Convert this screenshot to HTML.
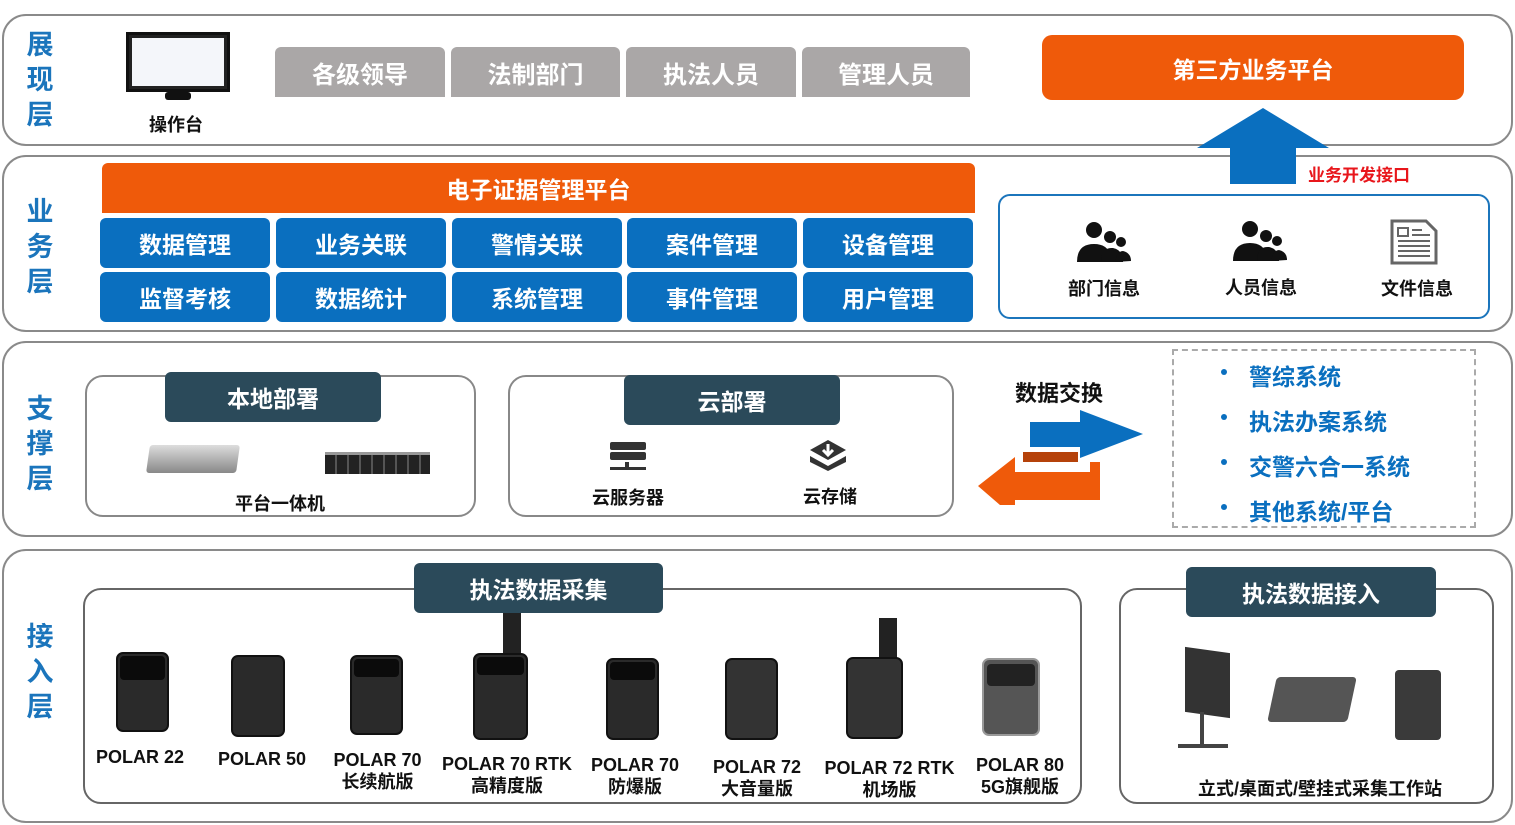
<!DOCTYPE html><html><head><meta charset="utf-8"><style>
*{margin:0;padding:0;box-sizing:border-box}
body{width:1515px;height:825px;background:#fff;position:relative;overflow:hidden;font-family:"Liberation Sans","Noto Sans CJK SC",sans-serif;font-weight:bold}
.a{position:absolute}
.layer{position:absolute;border:2px solid #8a8a8a;border-radius:24px;background:#fff}
.vl{position:absolute;color:#1b75bc;font-size:27px;line-height:35px;width:30px;text-align:center}
.g{position:absolute;background:#aaa7a7;color:#fff;font-size:24px;display:flex;align-items:center;justify-content:center;border-radius:6px 6px 0 0;height:50px;top:47px}
.b{position:absolute;background:#0a6fbf;color:#fff;font-size:23px;display:flex;align-items:center;justify-content:center;border-radius:6px;height:50px}
.h{position:absolute;background:#2b4a5a;color:#fff;font-size:23px;display:flex;align-items:center;justify-content:center;border-radius:6px;height:50px}
.box{position:absolute;border:2px solid #666;border-radius:18px;background:#fff}
.t{position:absolute;font-size:18px;color:#111;text-align:center;line-height:22px}
.dev{position:absolute;background:#2a2a2a;border-radius:7px;border:2px solid #111}
.lens{position:absolute;background:#0b0b0b;border-radius:4px}
.li{position:absolute;color:#0a6fbf;font-size:23px;left:1220px}
</style></head><body>
<!-- layer 1 -->
<div class="layer" style="left:2px;top:14px;width:1511px;height:132px"></div>
<div class="vl" style="left:25px;top:28px">展<br>现<br>层</div>
<div class="a" style="left:126px;top:32px;width:104px;height:60px;background:#222;border:3px solid #111"><div style="margin:3px;height:48px;background:#f4f6fa"></div></div>
<div class="a" style="left:165px;top:92px;width:26px;height:8px;background:#111;border-radius:3px"></div>
<div class="t" style="left:130px;top:114px;width:92px">操作台</div>
<div class="g" style="left:275px;width:170px">各级领导</div>
<div class="g" style="left:451px;width:169px">法制部门</div>
<div class="g" style="left:626px;width:170px">执法人员</div>
<div class="g" style="left:802px;width:168px">管理人员</div>
<div class="a" style="left:1042px;top:35px;width:422px;height:65px;background:#ef5a0a;border-radius:10px;color:#fff;font-size:23px;display:flex;align-items:center;justify-content:center">第三方业务平台</div>
<!-- layer 2 -->
<div class="layer" style="left:2px;top:155px;width:1511px;height:177px"></div>
<svg class="a" style="left:1195px;top:106px" width="140" height="80"><polygon points="68,2 134,42 101,42 101,78 35,78 35,42 2,42" fill="#0a6fbf"/></svg>
<div class="a" style="left:1308px;top:161px;color:#e8161b;font-size:17px">业务开发接口</div>
<div class="vl" style="left:25px;top:195px">业<br>务<br>层</div>
<div class="a" style="left:102px;top:163px;width:873px;height:50px;background:#ef5a0a;border-radius:6px 6px 0 0;color:#fff;font-size:23px;display:flex;align-items:center;justify-content:center">电子证据管理平台</div>
<div class="b" style="left:100px;top:218px;width:170px">数据管理</div>
<div class="b" style="left:276px;top:218px;width:170px">业务关联</div>
<div class="b" style="left:452px;top:218px;width:170px">警情关联</div>
<div class="b" style="left:627px;top:218px;width:170px">案件管理</div>
<div class="b" style="left:803px;top:218px;width:170px">设备管理</div>
<div class="b" style="left:100px;top:272px;width:170px">监督考核</div>
<div class="b" style="left:276px;top:272px;width:170px">数据统计</div>
<div class="b" style="left:452px;top:272px;width:170px">系统管理</div>
<div class="b" style="left:627px;top:272px;width:170px">事件管理</div>
<div class="b" style="left:803px;top:272px;width:170px">用户管理</div>
<div class="a" style="left:998px;top:194px;width:492px;height:125px;border:2px solid #1b75bc;border-radius:12px;background:#fff"></div>
<svg class="a" style="left:1075px;top:220px" width="240" height="45">
<g fill="#111"><circle cx="19" cy="10" r="8"/><path d="M2 42 Q2 24 19 24 Q36 24 36 42Z"/><circle cx="35" cy="17" r="6"/><path d="M26 42 Q26 27 38 28 Q48 30 48 42Z"/><circle cx="46" cy="22" r="5"/><path d="M40 42 Q42 31 48 31 Q56 33 56 41Z"/></g>
<g fill="#111" transform="translate(156,-1)"><circle cx="19" cy="10" r="8"/><path d="M2 42 Q2 24 19 24 Q36 24 36 42Z"/><circle cx="35" cy="17" r="6"/><path d="M26 42 Q26 27 38 28 Q48 30 48 42Z"/><circle cx="46" cy="22" r="5"/><path d="M40 42 Q42 31 48 31 Q56 33 56 41Z"/></g>
</svg>
<svg class="a" style="left:1390px;top:219px" width="50" height="48"><path d="M2 2 H36 L46 12 V44 H2Z" fill="#fff" stroke="#666" stroke-width="3"/><rect x="8" y="9" width="10" height="8" fill="none" stroke="#666" stroke-width="2"/><g stroke="#666" stroke-width="2"><line x1="22" y1="11" x2="32" y2="11"/><line x1="22" y1="16" x2="40" y2="16"/><line x1="8" y1="22" x2="40" y2="22"/><line x1="8" y1="27" x2="40" y2="27"/><line x1="8" y1="32" x2="40" y2="32"/><line x1="8" y1="37" x2="40" y2="37"/></g></svg>
<div class="t" style="left:1054px;top:278px;width:100px">部门信息</div>
<div class="t" style="left:1211px;top:277px;width:100px">人员信息</div>
<div class="t" style="left:1367px;top:278px;width:100px">文件信息</div>
<!-- layer 3 -->
<div class="layer" style="left:2px;top:341px;width:1511px;height:196px"></div>
<div class="vl" style="left:25px;top:392px">支<br>撑<br>层</div>
<div class="box" style="left:85px;top:375px;width:391px;height:142px;border-color:#888"></div>
<div class="h" style="left:165px;top:372px;width:216px">本地部署</div>
<div class="a" style="left:148px;top:445px;width:90px;height:28px;background:linear-gradient(#ddd,#888);border-radius:3px;transform:skewX(-8deg)"></div>
<div class="a" style="left:325px;top:452px;width:105px;height:22px;background:repeating-linear-gradient(90deg,#222 0 10px,#555 10px 12px);border-top:3px solid #999"></div>
<div class="t" style="left:220px;top:493px;width:120px">平台一体机</div>
<div class="box" style="left:508px;top:375px;width:446px;height:142px;border-color:#888"></div>
<div class="h" style="left:624px;top:375px;width:216px">云部署</div>
<svg class="a" style="left:608px;top:440px" width="40" height="32"><g fill="#333"><rect x="2" y="2" width="36" height="8" rx="2"/><rect x="2" y="12" width="36" height="8" rx="2"/><rect x="17" y="22" width="4" height="6"/><rect x="2" y="27" width="36" height="3"/></g></svg>
<svg class="a" style="left:808px;top:438px" width="40" height="34"><g fill="#333"><polygon points="20,2 38,12 20,22 2,12"/><polygon points="2,18 20,28 38,18 38,24 20,33 2,24"/></g><path d="M20 6 V16 M15 12 L20 17 L25 12" stroke="#fff" stroke-width="3" fill="none"/></svg>
<div class="t" style="left:578px;top:487px;width:100px">云服务器</div>
<div class="t" style="left:780px;top:486px;width:100px">云存储</div>
<div class="a" style="left:1015px;top:376px;font-size:22px;color:#111">数据交换</div>
<svg class="a" style="left:975px;top:410px" width="175" height="95"><polygon points="15,73 40,51 40,62 115,62 115,52 125,52 125,90 40,90 40,100" fill="#ef5a0a"/><polygon points="3,76 40,47 40,66 115,66 115,89 40,89 40,108" fill="#ef5a0a"/><rect x="48" y="42" width="55" height="10" fill="#b5420a"/><polygon points="55,12 105,12 105,0 168,24 105,48 105,37 55,37" fill="#0a6fbf"/></svg>
<div class="a" style="left:1172px;top:349px;width:304px;height:179px;border:2px dashed #aaa"></div>
<div class="a" style="left:1221px;top:369px;width:6px;height:6px;border-radius:3px;background:#0a6fbf"></div>
<div class="a" style="left:1221px;top:414px;width:6px;height:6px;border-radius:3px;background:#0a6fbf"></div>
<div class="a" style="left:1221px;top:459px;width:6px;height:6px;border-radius:3px;background:#0a6fbf"></div>
<div class="a" style="left:1221px;top:504px;width:6px;height:6px;border-radius:3px;background:#0a6fbf"></div>
<div class="li" style="left:1249px;top:358px">警综系统</div>
<div class="li" style="left:1249px;top:403px">执法办案系统</div>
<div class="li" style="left:1249px;top:448px">交警六合一系统</div>
<div class="li" style="left:1249px;top:493px">其他系统/平台</div>
<!-- layer 4 -->
<div class="layer" style="left:2px;top:549px;width:1511px;height:274px"></div>
<div class="vl" style="left:25px;top:620px">接<br>入<br>层</div>
<div class="box" style="left:83px;top:588px;width:999px;height:216px"></div>
<div class="h" style="left:414px;top:563px;width:249px">执法数据采集</div>
<div class="box" style="left:1119px;top:588px;width:375px;height:216px"></div>
<div class="h" style="left:1186px;top:567px;width:250px">执法数据接入</div>
<div class="dev" style="left:116px;top:652px;width:53px;height:80px"></div><div class="lens" style="left:120px;top:656px;width:45px;height:24px"></div>
<div class="dev" style="left:231px;top:655px;width:54px;height:82px"></div>
<div class="dev" style="left:350px;top:655px;width:53px;height:80px"></div><div class="lens" style="left:354px;top:659px;width:45px;height:18px"></div>
<div class="a" style="left:503px;top:613px;width:18px;height:44px;background:#222"></div>
<div class="dev" style="left:473px;top:653px;width:55px;height:87px"></div><div class="lens" style="left:477px;top:657px;width:47px;height:18px"></div>
<div class="dev" style="left:606px;top:658px;width:53px;height:82px"></div><div class="lens" style="left:610px;top:662px;width:45px;height:18px"></div>
<div class="dev" style="left:725px;top:658px;width:53px;height:82px;background:#333"></div>
<div class="a" style="left:879px;top:618px;width:18px;height:42px;background:#222"></div>
<div class="dev" style="left:846px;top:657px;width:57px;height:82px;background:#333"></div>
<div class="dev" style="left:982px;top:658px;width:58px;height:78px;background:#555;border-color:#999"></div><div class="lens" style="left:987px;top:664px;width:48px;height:22px;background:#222"></div>
<div class="t" style="left:90px;top:746px;width:100px">POLAR 22</div>
<div class="t" style="left:212px;top:748px;width:100px">POLAR 50</div>
<div class="t" style="left:320px;top:749px;width:115px">POLAR 70<br>长续航版</div>
<div class="t" style="left:437px;top:753px;width:140px">POLAR 70 RTK<br>高精度版</div>
<div class="t" style="left:580px;top:754px;width:110px">POLAR 70<br>防爆版</div>
<div class="t" style="left:702px;top:756px;width:110px">POLAR 72<br>大音量版</div>
<div class="t" style="left:817px;top:757px;width:145px">POLAR 72 RTK<br>机场版</div>
<div class="t" style="left:965px;top:754px;width:110px">POLAR 80<br>5G旗舰版</div>
<div class="a" style="left:1185px;top:650px;width:45px;height:65px;background:#333;transform:skewY(8deg)"></div>
<div class="a" style="left:1200px;top:712px;width:4px;height:36px;background:#444"></div>
<div class="a" style="left:1178px;top:744px;width:50px;height:4px;background:#444"></div>
<div class="a" style="left:1272px;top:677px;width:80px;height:45px;background:#555;transform:skewX(-12deg);border-radius:4px"></div>
<div class="a" style="left:1395px;top:670px;width:46px;height:70px;background:#3a3a3a;border-radius:4px"></div>
<div class="t" style="left:1170px;top:778px;width:300px">立式/桌面式/壁挂式采集工作站</div>
</body></html>
